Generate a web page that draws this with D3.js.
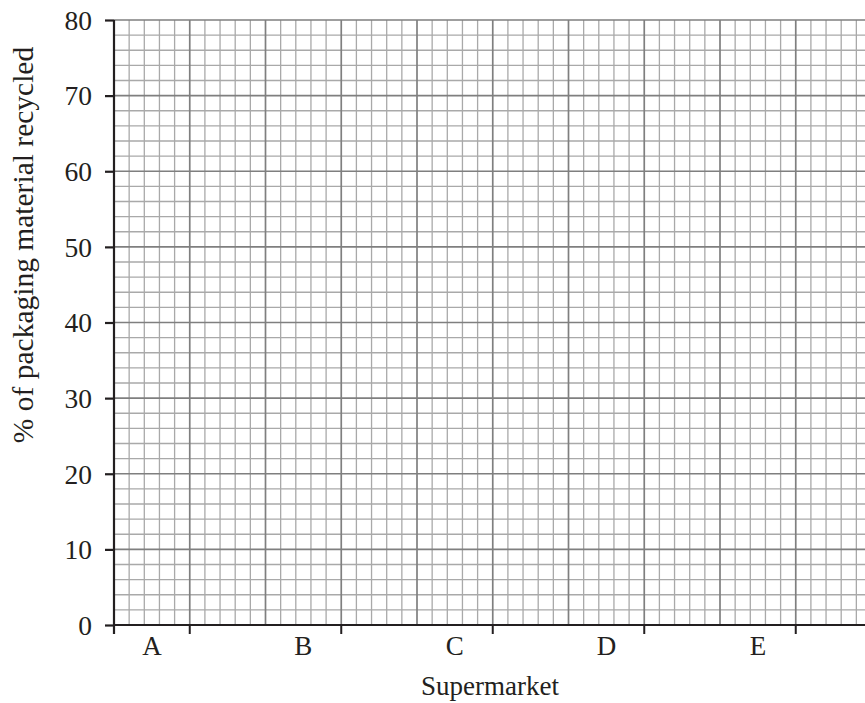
<!DOCTYPE html>
<html>
<head>
<meta charset="utf-8">
<script src="https://cdn.jsdelivr.net/npm/d3@7"></script>
<style>
  html, body { margin: 0; padding: 0; background: #fff; }
  svg { display: block; }
  text { font-family: "Liberation Serif", "Times New Roman", serif; fill: #231f20; }
</style>
</head>
<body>
<svg id="chart" width="865" height="703"></svg>
<script>
const categories = ["A", "B", "C", "D", "E"];
const yTickValues = [0, 10, 20, 30, 40, 50, 60, 70, 80];
const yDomain = [0, 80];
const xLabel = "Supermarket";
const yLabel = "% of packaging material recycled";

(function () {
const svg = d3.select("#chart");
const pLeft = 114, pRight = 871.5, pTop = 20, pBottom = 625;

const x = d3.scaleBand().domain(categories).range([pLeft, pRight]).padding(0);
const y = d3.scaleLinear().domain(yDomain).range([pBottom, pTop]);
const bw = x.bandwidth();

// grid in minor units: each band split into 10 minor cells
const nMinorX = categories.length * 10;
const xg = d3.scaleLinear().domain([0, nMinorX]).range([pLeft, pRight]);
const minorY = d3.range(yDomain[0], yDomain[1] + 1, 2);

const grid = svg.append("g");
grid.selectAll("line.vminor").data(d3.range(0, nMinorX + 1).filter(i => i % 5 !== 0))
  .join("line").attr("x1", d => xg(d)).attr("x2", d => xg(d))
  .attr("y1", pTop).attr("y2", pBottom)
  .attr("stroke", "#a9a9a9").attr("stroke-width", 1.3);
grid.selectAll("line.hminor").data(minorY.filter(v => v % 10 !== 0))
  .join("line").attr("x1", pLeft).attr("x2", pRight)
  .attr("y1", d => y(d)).attr("y2", d => y(d))
  .attr("stroke", "#a9a9a9").attr("stroke-width", 1.3);
grid.selectAll("line.vmajor").data(d3.range(0, nMinorX + 1).filter(i => i % 5 === 0))
  .join("line").attr("x1", d => xg(d)).attr("x2", d => xg(d))
  .attr("y1", pTop).attr("y2", pBottom)
  .attr("stroke", "#7f7f7f").attr("stroke-width", 1.7);
grid.selectAll("line.hmajor").data(yTickValues)
  .join("line").attr("x1", pLeft).attr("x2", pRight)
  .attr("y1", d => y(d)).attr("y2", d => y(d))
  .attr("stroke", "#7f7f7f").attr("stroke-width", 1.7);

// Y axis
const yAxis = svg.append("g").attr("transform", `translate(${pLeft},0)`)
  .call(d3.axisLeft(y).tickValues(yTickValues).tickSize(9).tickPadding(13).tickFormat(d3.format("d")));
yAxis.attr("font-family", "Liberation Serif, serif").attr("font-size", 27.5);
yAxis.select(".domain").attr("stroke", "#231f20").attr("stroke-width", 2.2)
  .attr("d", `M0,${pTop}V${pBottom + 9}`);
yAxis.selectAll(".tick line").attr("stroke", "#231f20").attr("stroke-width", 2.2);
yAxis.selectAll(".tick text").attr("font-size", 27.5).attr("dy", "0.34em")
  .style("font-family", "'Liberation Serif', serif").attr("fill", "#231f20");

// X axis line
svg.append("line").attr("x1", pLeft).attr("x2", pRight).attr("y1", pBottom).attr("y2", pBottom)
  .attr("stroke", "#231f20").attr("stroke-width", 2.2);
svg.selectAll("line.xtick").data(categories).join("line")
  .attr("x1", d => x(d) + bw / 2).attr("x2", d => x(d) + bw / 2)
  .attr("y1", pBottom).attr("y2", pBottom + 9)
  .attr("stroke", "#231f20").attr("stroke-width", 2);
svg.selectAll("text.cat").data(categories).join("text")
  .attr("x", d => x(d) + bw / 4).attr("y", 655)
  .attr("text-anchor", "middle").attr("font-size", 27).text(d => d);

// Axis titles
svg.append("text").attr("x", 490).attr("y", 695).attr("text-anchor", "middle")
  .attr("font-size", 27).text(xLabel);
svg.append("text").attr("transform", "translate(33,245) rotate(-90)")
  .attr("text-anchor", "middle").attr("font-size", 29.5).text(yLabel);
})();
</script>
</body>
</html>
